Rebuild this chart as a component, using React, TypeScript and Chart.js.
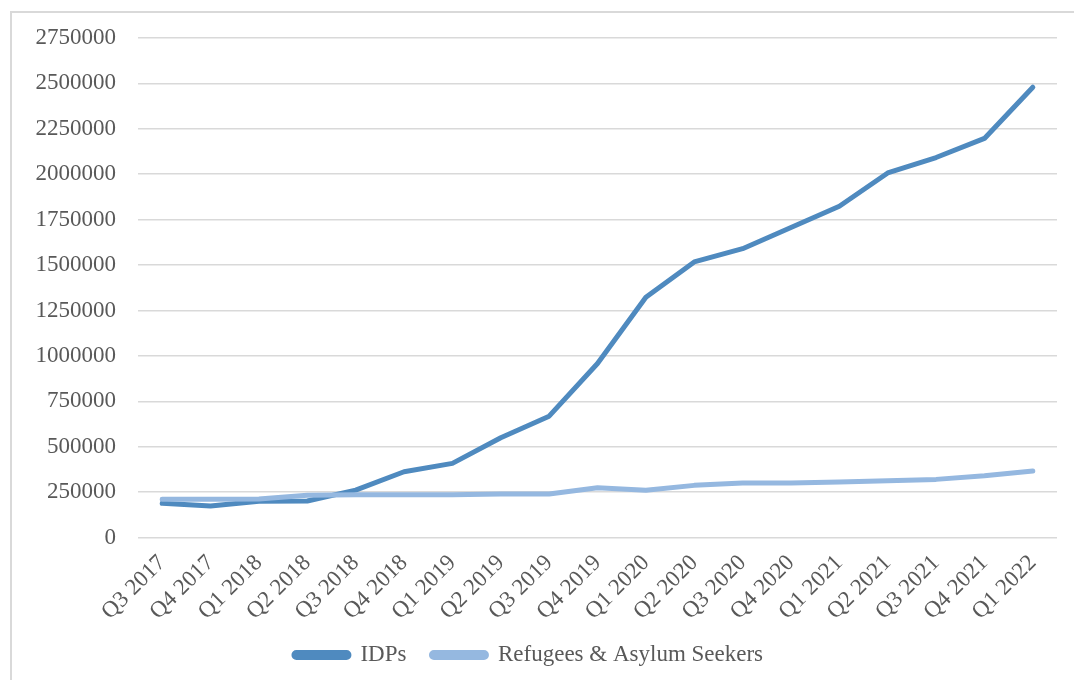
import React, { useEffect, useRef } from "react";
import { Chart, registerables } from "chart.js";

Chart.register(...registerables);

const quarters = [
  "Q3 2017", "Q4 2017", "Q1 2018", "Q2 2018", "Q3 2018", "Q4 2018",
  "Q1 2019", "Q2 2019", "Q3 2019", "Q4 2019", "Q1 2020", "Q2 2020",
  "Q3 2020", "Q4 2020", "Q1 2021", "Q2 2021", "Q3 2021", "Q4 2021", "Q1 2022",
];

const idps = [
  188000, 174000, 200000, 201000, 261000, 362000, 408000, 549000, 668000,
  958000, 1323000, 1517000, 1590000, 1707000, 1824000, 2007000, 2092000,
  2197000, 2479000,
];

const refugees = [
  211000, 210000, 212000, 232000, 235000, 235000, 235000, 239000, 240000,
  274000, 260000, 287000, 300000, 300000, 306000, 312000, 320000, 340000,
  366000,
];

const yMax = 2750000;
const yStep = 250000;

const idpColor = "#4f8abf";
const refugeeColor = "#95b8e0";
const textColor = "#595959";
const gridColor = "#d9d9d9";
const fontFamily = "'Liberation Serif', 'Times New Roman', serif";

export default function App() {
  const canvasRef = useRef<HTMLCanvasElement | null>(null);

  useEffect(() => {
    const canvas = canvasRef.current;
    if (!canvas) return;
    const chart = new Chart(canvas, {
      type: "line",
      data: {
        labels: quarters,
        datasets: [
          {
            label: "IDPs",
            data: idps,
            borderColor: idpColor,
            backgroundColor: idpColor,
            borderWidth: 5,
            pointRadius: 0,
            tension: 0,
            borderCapStyle: "round",
            borderJoinStyle: "round",
            order: 1,
          },
          {
            label: "Refugees & Asylum Seekers",
            data: refugees,
            borderColor: refugeeColor,
            backgroundColor: refugeeColor,
            borderWidth: 5,
            pointRadius: 0,
            tension: 0,
            borderCapStyle: "round",
            borderJoinStyle: "round",
            order: 0,
          },
        ],
      },
      options: {
        responsive: false,
        animation: false,
        devicePixelRatio: 1,
        layout: { padding: { top: 38, right: 17, bottom: 3.5, left: 0 } },
        scales: {
          x: {
            offset: true,
            grid: { display: false },
            border: { display: false },
            ticks: {
              autoSkip: false,
              maxRotation: 45,
              minRotation: 45,
              padding: 4,
              color: textColor,
              font: { family: fontFamily, size: 23 },
            },
            afterFit: (scale: any) => {
              scale.height = 81;
            },
          },
          y: {
            min: 0,
            max: yMax,
            grid: { color: gridColor, lineWidth: 1.5, drawTicks: false },
            border: { display: false },
            ticks: {
              stepSize: yStep,
              padding: 22,
              color: textColor,
              font: { family: fontFamily, size: 23 },
              callback: (v: any) => String(v),
            },
            afterFit: (scale: any) => {
              scale.width = 138;
            },
          },
        },
        plugins: {
          tooltip: { enabled: false },
          legend: {
            position: "bottom",
            labels: {
              boxWidth: 55,
              boxHeight: 5,
              useBorderRadius: true,
              borderRadius: 2.5,
              padding: 25,
              color: textColor,
              font: { family: fontFamily, size: 23 },
              sort: (a: any, b: any) => a.datasetIndex - b.datasetIndex,
            },
          },
        },
      },
    });
    return () => chart.destroy();
  }, []);

  return (
    <div
      style={{
        position: "fixed",
        left: 0,
        top: 0,
        width: 1074,
        height: 680,
        overflow: "hidden",
        background: "#ffffff",
      }}
    >
      <div
        style={{
          position: "absolute",
          left: 10,
          top: 11,
          width: 1100,
          height: 700,
          borderTop: `2px solid ${gridColor}`,
          borderLeft: `2px solid ${gridColor}`,
        }}
      />
      <canvas
        ref={canvasRef}
        width={1074}
        height={680}
        style={{ position: "absolute", left: 0, top: 0, width: 1074, height: 680 }}
      />
    </div>
  );
}
